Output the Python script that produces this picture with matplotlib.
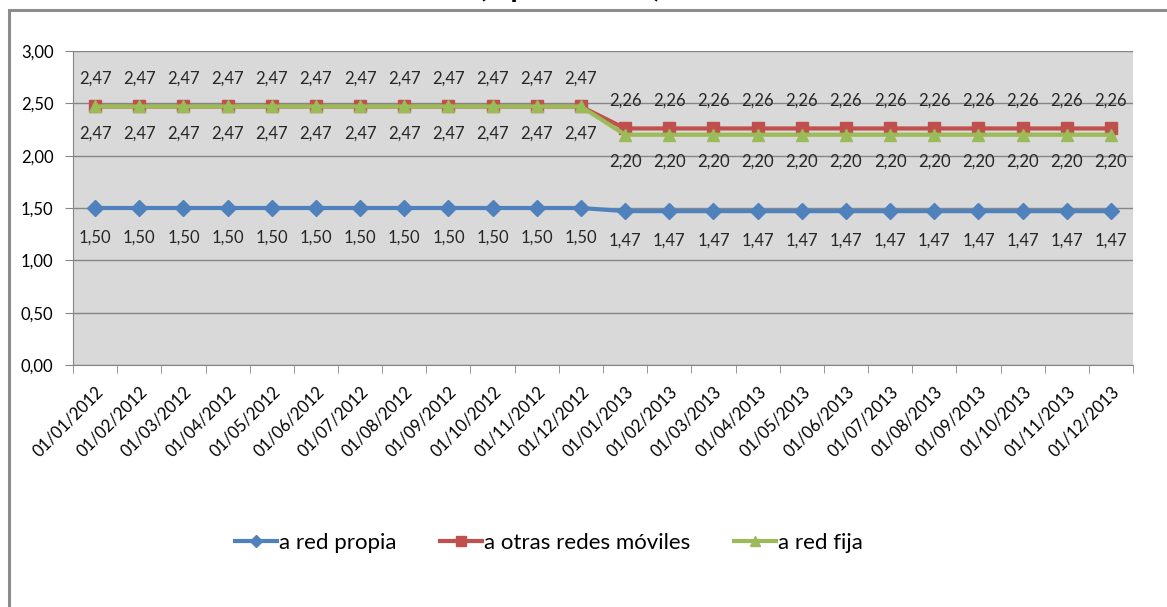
import matplotlib
matplotlib.use('Agg')
import matplotlib.pyplot as plt
import numpy as np
from matplotlib.patches import Rectangle

plt.rcParams['font.family'] = ['Lato', 'DejaVu Sans']

# datos
meses = ['01/%02d/%d' % (m, a) for a in (2012, 2013) for m in range(1, 13)]
red_propia = [1.50] * 12 + [1.47] * 12
otras_moviles = [2.47] * 12 + [2.26] * 12
red_fija = [2.47] * 12 + [2.20] * 12

c_azul = '#4F81BD'
c_rojo = '#C0504D'
c_verde = '#9BBB59'

fig = plt.figure(figsize=(11.67, 6.07), dpi=100)
W, H = 1167.0, 607.0

# marco del grafico
fig.patches.append(Rectangle((9 / W, -0.05), 1.1, 1 - 10 / H + 0.05,
                             transform=fig.transFigure, fill=False,
                             edgecolor='#8c8c8c', lw=2.2))
fig.text(662 / W, 1.0 + 3 / H, 'Precios (€ por minuto)', ha='right', va='baseline',
         fontsize=21, fontweight='bold')

ax = fig.add_axes([73 / W, 1 - 365 / H, (1133 - 73) / W, (365 - 51) / H])
ax.set_facecolor('#D9D9D9')
x = np.arange(len(meses))

ax.plot(x, red_propia, color=c_azul, lw=3, marker='D', ms=8, label='a red propia', zorder=3)
ax.plot(x, otras_moviles, color=c_rojo, lw=3, marker='s', ms=9, label='a otras redes móviles', zorder=4)
ax.plot(x, red_fija, color=c_verde, lw=3, marker='^', ms=9, label='a red fija', zorder=5)

def fmt(v):
    return ('%.2f' % v).replace('.', ',')

for xi, v in zip(x, red_propia):
    ax.annotate(fmt(v), (xi, v), xytext=(0, -21), textcoords='offset points',
                ha='center', va='center', fontsize=12, color='#262626')
for xi, v in zip(x, otras_moviles):
    ax.annotate(fmt(v), (xi, v), xytext=(0, 20), textcoords='offset points',
                ha='center', va='center', fontsize=12, color='#262626')
for xi, v in zip(x, red_fija):
    ax.annotate(fmt(v), (xi, v), xytext=(0, -19.5), textcoords='offset points',
                ha='center', va='center', fontsize=12, color='#262626')

ax.set_xlim(-0.5, len(meses) - 0.5)
ax.set_ylim(0, 3)
yt = np.arange(0, 3.01, 0.5)
ax.set_yticks(yt)
ax.set_yticklabels([fmt(v) for v in yt], fontsize=12)
ax.yaxis.grid(True, color='#868686', lw=1)
ax.set_axisbelow(True)

ax.set_xticks(x)
ax.set_xticklabels(meses, rotation=45, ha='right', rotation_mode='anchor', fontsize=12)
ax.set_xticks(np.arange(-0.5, len(meses)), minor=True)
ax.tick_params(axis='x', which='major', length=0, pad=13)
ax.tick_params(axis='x', which='minor', length=6, color='#868686')
ax.tick_params(axis='y', length=6, color='#868686', pad=8)

for s in ['top', 'right']:
    ax.spines[s].set_visible(False)
ax.spines['left'].set_color('#868686')
ax.spines['bottom'].set_color('#868686')

leg = fig.legend(loc='center', bbox_to_anchor=(549 / W, 1 - 543 / H), ncol=3,
                 frameon=False, fontsize=16, handlelength=1.9, handletextpad=0.1,
                 columnspacing=1.95, markerscale=0.75)

fig.savefig('out.png', dpi=100)
